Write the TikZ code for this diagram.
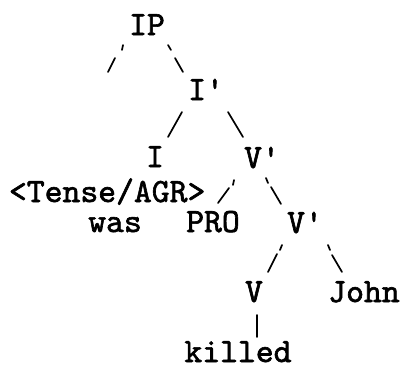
\documentclass[tikz,border=0pt]{standalone}
\usepackage{fontspec}
\newfontfamily\typew{lmmono10-regular.otf}[FakeBold=1.8]
\begin{document}
\begin{tikzpicture}[x=1pt,y=-1pt,
  lbl/.style={font=\fontsize{34}{34}\selectfont\typew, inner sep=0pt, outer sep=0pt, anchor=base},
  branch/.style={line width=1.7pt, line cap=round}]
\useasboundingbox (0,0) rectangle (406,369);
\node[lbl] (IP) at (147,35) {IP};
\node[lbl] (Ibar) at (206,100) {I'};
\node[lbl] (I) at (155,167) {I};
\node[lbl] (Vbar1) at (262,168) {V'};
\node[lbl, anchor=base west] (tense) at (9,202) {<Tense/AGR>};
\node[lbl] (was) at (115,232) {was};
\node[lbl] (PRO) at (213,232) {PRO};
\node[lbl] (Vbar2) at (305,233) {V'};
\node[lbl] (V) at (254,302) {V};
\node[lbl] (John) at (364,302) {John};
\node[lbl] (killed) at (238,362) {killed};
% IP
\draw[branch] ([shift={(-24,10)}]IP.base) -- ([shift={(-25,15)}]IP.base)
              ([shift={(-32,23)}]IP.base) -- ([shift={(-39,37)}]IP.base);
\draw[branch] ([shift={(21,10)}]IP.base) -- ([shift={(24,15)}]IP.base)
              ([shift={(28,23)}]IP.base) -- ([shift={(-23,-28)}]Ibar.base);
% I'
\draw[branch] ([shift={(-24,12)}]Ibar.base) -- ([shift={(13,-30)}]I.base);
\draw[branch] ([shift={(22,12)}]Ibar.base) -- ([shift={(-19,-31)}]Vbar1.base);
% V' upper
\draw[branch] ([shift={(-28,12)}]Vbar1.base) -- ([shift={(-29,17)}]Vbar1.base)
              ([shift={(-33,20)}]Vbar1.base) -- ([shift={(5,-29)}]PRO.base);
\draw[branch] ([shift={(4,10)}]Vbar1.base) -- ([shift={(6,15)}]Vbar1.base)
              ([shift={(9,19)}]Vbar1.base) -- ([shift={(-24,-29)}]Vbar2.base);
% V' lower
\draw[branch] ([shift={(-23,12)}]Vbar2.base) -- ([shift={(-25,17)}]Vbar2.base)
              ([shift={(-28,21)}]Vbar2.base) -- ([shift={(14,-30)}]V.base);
\draw[branch] ([shift={(23,12)}]Vbar2.base) -- ([shift={(25,17)}]Vbar2.base)
              ([shift={(27,22)}]Vbar2.base) -- ([shift={(-22,-30)}]John.base);
% V
\draw[branch] ([shift={(3,13)}]V.base) -- ([shift={(19,-25)}]killed.base);
\end{tikzpicture}
\end{document}
